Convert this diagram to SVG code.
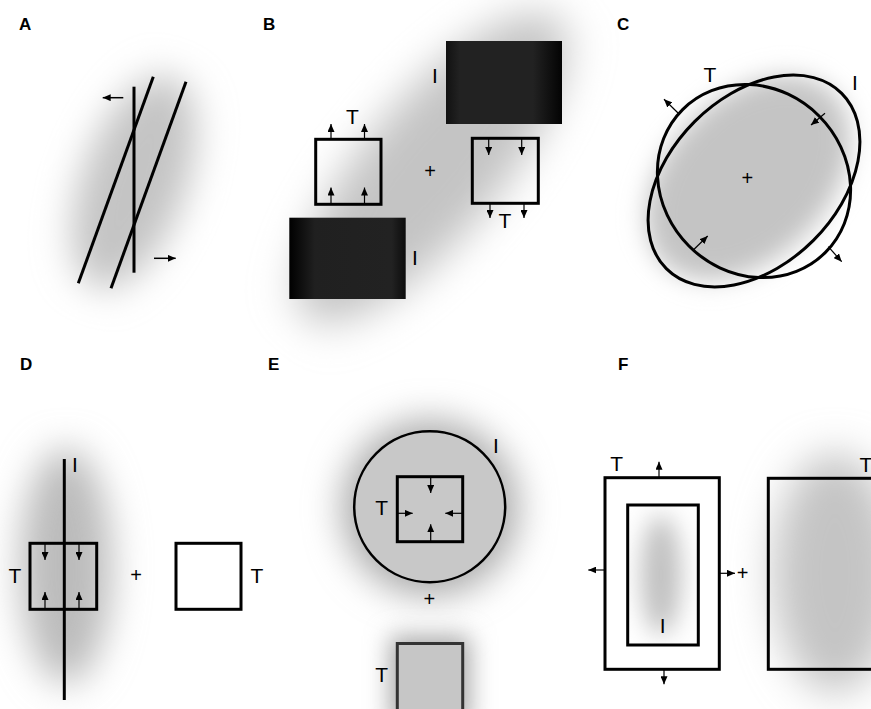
<svg xmlns="http://www.w3.org/2000/svg" width="871" height="709" viewBox="0 0 871 709">
<style>
.lbl{font-family:"Liberation Sans",Arial,sans-serif;font-weight:bold;font-size:17px;fill:#000}
.t{font-family:"Liberation Sans",Arial,sans-serif;font-size:21px;fill:#000;text-anchor:middle}
.p{font-family:"Liberation Sans",Arial,sans-serif;font-size:20px;fill:#000;text-anchor:middle}
.ln{stroke:#000;stroke-width:3;fill:none}
.sq{stroke:#000;stroke-width:3;fill:none}
.ar{stroke:#000;stroke-width:1.2;fill:none;marker-end:url(#ah)}
.arA{stroke:#000;stroke-width:1.5;fill:none;marker-end:url(#ah)}
.gr{fill:#c4c4c4}
</style>
<defs>
<marker id="ah" viewBox="0 0 8 7" refX="8" refY="3.5" markerWidth="8" markerHeight="7" markerUnits="userSpaceOnUse" orient="auto"><path d="M0,0 L8,3.5 L0,7 z" fill="#000"/></marker>
<filter id="b12" x="-100%" y="-100%" width="300%" height="300%"><feGaussianBlur stdDeviation="12"/></filter>
<filter id="b15" x="-100%" y="-100%" width="300%" height="300%"><feGaussianBlur stdDeviation="15"/></filter>
<filter id="b18" x="-100%" y="-100%" width="300%" height="300%"><feGaussianBlur stdDeviation="18"/></filter>
<filter id="b20" x="-100%" y="-100%" width="300%" height="300%"><feGaussianBlur stdDeviation="20"/></filter>
<linearGradient id="blkR" x1="0" y1="0" x2="1" y2="0">
<stop offset="0" stop-color="#111"/><stop offset="0.12" stop-color="#222"/><stop offset="0.75" stop-color="#222"/><stop offset="1" stop-color="#030303"/>
</linearGradient>
<linearGradient id="blkL" x1="0" y1="0" x2="1" y2="0">
<stop offset="0" stop-color="#000"/><stop offset="0.22" stop-color="#202020"/><stop offset="0.88" stop-color="#222"/><stop offset="1" stop-color="#0c0c0c"/>
</linearGradient>
<clipPath id="innerF"><rect x="628" y="505" width="70" height="140"/></clipPath>
</defs>
<rect width="871" height="709" fill="#fff"/>

<g id="panelA">
<ellipse cx="134" cy="182" rx="52" ry="112" transform="rotate(20 134 182)" class="gr" filter="url(#b18)"/>
<line x1="153.3" y1="76.7" x2="78.3" y2="283.3" class="ln"/>
<line x1="186" y1="81.7" x2="111" y2="288.3" class="ln"/>
<line x1="134" y1="86.7" x2="134" y2="272.7" class="ln"/>
<line x1="123.3" y1="97.7" x2="102.7" y2="97.7" class="arA"/>
<line x1="154" y1="258.3" x2="175.7" y2="258.3" class="arA"/>
<text x="19" y="30" class="lbl">A</text>
</g>

<g id="panelB">
<ellipse cx="432" cy="168" rx="195" ry="68" transform="rotate(-50 432 168)" class="gr" filter="url(#b20)"/>
<rect x="446" y="41" width="116" height="83" fill="url(#blkR)"/>
<rect x="289.3" y="217.7" width="116.4" height="81.3" fill="url(#blkL)"/>
<rect x="315.7" y="139.3" width="65.3" height="65" class="sq"/>
<rect x="472.3" y="138.3" width="66" height="65" class="sq"/>
<line x1="331" y1="139" x2="331" y2="124" class="ar"/>
<line x1="364.5" y1="139" x2="364.5" y2="124" class="ar"/>
<line x1="331" y1="204" x2="331" y2="187.5" class="ar"/>
<line x1="364.5" y1="204" x2="364.5" y2="187.5" class="ar"/>
<line x1="488.7" y1="138.5" x2="488.7" y2="155" class="ar"/>
<line x1="521.7" y1="138.5" x2="521.7" y2="155" class="ar"/>
<line x1="490" y1="203.5" x2="490" y2="218" class="ar"/>
<line x1="524" y1="203.5" x2="524" y2="218" class="ar"/>
<text x="352.5" y="124" class="t">T</text>
<text x="505" y="228" class="t">T</text>
<text x="435" y="83" class="t">I</text>
<text x="415" y="265" class="t">I</text>
<text x="430" y="178" class="p">+</text>
<text x="263" y="30" class="lbl">B</text>
</g>

<g id="panelC">
<ellipse cx="748" cy="178" rx="120" ry="80" transform="rotate(-45 748 178)" class="gr" filter="url(#b12)"/>
<ellipse cx="754" cy="181" rx="124" ry="84" transform="rotate(-45 754 181)" class="ln"/>
<ellipse cx="754" cy="181" rx="101" ry="92" transform="rotate(45 754 181)" class="ln"/>
<line x1="678.3" y1="113.3" x2="664" y2="99.3" class="ar"/>
<line x1="825" y1="113.3" x2="811" y2="125" class="ar"/>
<line x1="693.3" y1="250" x2="707.7" y2="236" class="ar"/>
<line x1="828.3" y1="246.7" x2="841.7" y2="261.7" class="ar"/>
<text x="710" y="82" class="t">T</text>
<text x="855" y="90" class="t">I</text>
<text x="747.3" y="185" class="p">+</text>
<text x="617" y="30" class="lbl">C</text>
</g>

<g id="panelD">
<ellipse cx="66" cy="566" rx="46" ry="118" fill="#bcbcbc" filter="url(#b18)"/>
<line x1="64.3" y1="459" x2="64.3" y2="700" class="ln"/>
<rect x="30" y="543.3" width="66.7" height="66" class="sq"/>
<line x1="45" y1="544" x2="45" y2="560" class="ar"/>
<line x1="79" y1="544" x2="79" y2="560" class="ar"/>
<line x1="45" y1="609" x2="45" y2="592" class="ar"/>
<line x1="79" y1="609" x2="79" y2="592" class="ar"/>
<rect x="176" y="543.3" width="65" height="66" class="sq" fill="#fff"/>
<text x="75" y="472" class="t">I</text>
<text x="15" y="583" class="t">T</text>
<text x="257" y="583" class="t">T</text>
<text x="136" y="582" class="p">+</text>
<text x="20" y="370" class="lbl">D</text>
</g>

<g id="panelE">
<circle cx="430" cy="508" r="88" fill="#aaaaaa" filter="url(#b18)"/>
<circle cx="429.7" cy="506.7" r="75.5" fill="#c8c8c8" stroke="#000" stroke-width="2.5"/>
<rect x="397.3" y="476.7" width="65.4" height="65" class="sq"/>
<line x1="430.7" y1="477.5" x2="430.7" y2="493" class="ar"/>
<line x1="430.7" y1="541.5" x2="430.7" y2="524.3" class="ar"/>
<line x1="396" y1="513.3" x2="412.7" y2="513.3" class="ar"/>
<line x1="463" y1="513.3" x2="445.3" y2="513.3" class="ar"/>
<rect x="390" y="636" width="80" height="90" fill="#a8a8a8" filter="url(#b12)"/>
<rect x="397.3" y="643.5" width="65.4" height="70" fill="#c6c6c6" stroke="#333" stroke-width="3"/>
<text x="496" y="453" class="t">I</text>
<text x="381.7" y="515" class="t">T</text>
<text x="381.7" y="682" class="t">T</text>
<text x="429.3" y="606" class="p">+</text>
<text x="268" y="370" class="lbl">E</text>
</g>

<g id="panelF">
<ellipse cx="835" cy="573" rx="62" ry="120" class="gr" filter="url(#b20)"/>
<rect x="768.3" y="478.3" width="110" height="191" class="sq"/>
<rect x="605" y="477.7" width="114.3" height="191.6" fill="#fff" stroke="#000" stroke-width="3"/>
<g clip-path="url(#innerF)"><ellipse cx="661" cy="575" rx="20" ry="60" fill="#c0c0c0" filter="url(#b12)"/></g>
<rect x="627.7" y="505" width="70.6" height="140" class="sq"/>
<line x1="659" y1="478" x2="659" y2="461.7" class="ar"/>
<line x1="664" y1="669" x2="664" y2="684.3" class="ar"/>
<line x1="605" y1="570" x2="588.3" y2="570" class="ar"/>
<line x1="719.3" y1="573.3" x2="735" y2="573.3" class="ar"/>
<text x="616.7" y="471" class="t">T</text>
<text x="662.7" y="633" class="t">I</text>
<text x="866" y="472" class="t">T</text>
<text x="742.7" y="580" class="p">+</text>
<text x="618" y="370" class="lbl">F</text>
</g>
</svg>
